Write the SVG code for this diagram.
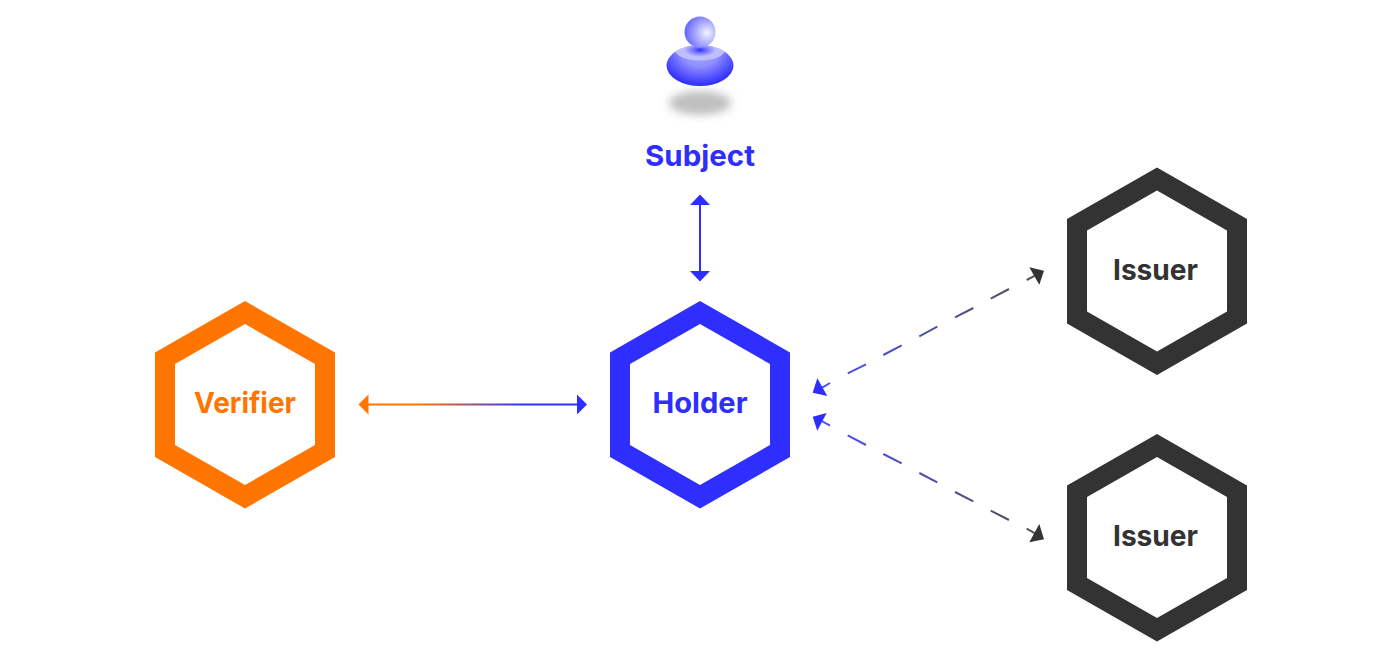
<svg xmlns="http://www.w3.org/2000/svg" width="1400" height="666" viewBox="0 0 1400 666">
<style>
text{font-family:"Inter","Liberation Sans",sans-serif;font-weight:700;font-size:29px;text-anchor:middle}
.blue{fill:#2e2eff}.orange{fill:#ff7500}.dark{fill:#333}
.dash{fill:none;stroke-width:2;stroke-opacity:.85}
</style>
<defs>
<path id="hex" fill-rule="evenodd" d="M0-103.500 90-52V52.500L0 104-90 52.500V-52ZM0-80.500-70-40.500V40.500L0 80.500 70 40.500V-40.500Z"/>
<linearGradient id="gh" gradientUnits="userSpaceOnUse" x1="368" y1="0" x2="577" y2="0"><stop offset="0.25" stop-color="#ff7500"/><stop offset="0.75" stop-color="#2e2eff"/></linearGradient>
<linearGradient id="gd1" gradientUnits="userSpaceOnUse" x1="822" y1="388" x2="1035" y2="275"><stop offset="0" stop-color="#2e2eff"/><stop offset="1" stop-color="#333"/></linearGradient>
<linearGradient id="gd2" gradientUnits="userSpaceOnUse" x1="822" y1="421" x2="1035" y2="533"><stop offset="0" stop-color="#2e2eff"/><stop offset="1" stop-color="#333"/></linearGradient>
<radialGradient id="head" gradientUnits="userSpaceOnUse" cx="707" cy="33" r="24"><stop offset="0" stop-color="#f4f4ff"/><stop offset="0.4" stop-color="#b4b4ff"/><stop offset="1" stop-color="#5a5aff"/></radialGradient>
<radialGradient id="body" gradientUnits="userSpaceOnUse" cx="0" cy="0" r="1" gradientTransform="translate(700 50) scale(42 36)"><stop offset="0" stop-color="#b0b0ff"/><stop offset="0.45" stop-color="#9090ff"/><stop offset="1" stop-color="#2e2eff"/></radialGradient>
<radialGradient id="band" gradientUnits="userSpaceOnUse" cx="0" cy="0" r="1" gradientTransform="translate(700 50) scale(25 10.500)"><stop offset="0" stop-color="#2e2eff"/><stop offset="0.3" stop-color="#7a7aff"/><stop offset="0.65" stop-color="#c0c0ff"/><stop offset="1" stop-color="#bcbcff"/></radialGradient>
<clipPath id="bodyclip"><ellipse cx="700" cy="65.500" rx="33.500" ry="20.500"/></clipPath>
<filter id="blur" x="-30%" y="-60%" width="160%" height="220%"><feGaussianBlur stdDeviation="4"/></filter>
</defs>
<g id="connectors">
<g id="subject-holder"><path d="M700 204V272" stroke="#2e2eff" stroke-width="2" fill="none"/><path class="blue" d="M700 194.500 710 205H690ZM700 281.500 710 271H690Z"/></g>
<g id="verifier-holder"><path d="M367 404.500H578" stroke="url(#gh)" stroke-width="2" fill="none"/><path class="orange" d="M358.500 404.500 368.500 394.500V414.500Z"/><path class="blue" d="M587 404.500 577 394.500V414.500Z"/></g>
<g id="holder-issuer-top"><path class="dash" stroke="url(#gd1)" d="M821.700 387.800 830 383M847.700 373.300 866 364.300M883.300 355 901.700 345.300M919.300 336.300 937.300 326.700M955 317.300 973.300 308M990.700 298.700 1009 289M1026.700 280 1035 275.700"/><path class="blue" d="M812.700 392.700 817.300 378.300 827.300 396Z"/><path class="dark" d="M1044 270.700 1029.300 267.300 1039.300 284.700Z"/></g>
<g id="holder-issuer-bottom"><path class="dash" stroke="url(#gd2)" d="M821.700 421 830 425.700M847.700 435.300 866 445M883.300 454 901.700 463.300M919.300 473 937.300 482.300M955 492 973.300 501.300M990.700 510.700 1009 520M1026.700 528.700 1035 533.300"/><path class="blue" d="M812.700 416.700 826.700 413 817.300 430.700Z"/><path class="dark" d="M1044 539.300 1039.300 524 1029.300 542.300Z"/></g>
</g>
<g id="subject">
<ellipse cx="700" cy="103" rx="31" ry="12" fill="#c0c0c0" filter="url(#blur)"/>
<ellipse cx="700" cy="65.500" rx="33.500" ry="20.500" fill="url(#body)"/>
<ellipse cx="700" cy="50" rx="25" ry="10.500" fill="url(#band)" clip-path="url(#bodyclip)"/>
<circle cx="700" cy="32" r="15.500" fill="url(#head)"/>
<text x="700" y="165.500" class="blue" textLength="110" lengthAdjust="spacingAndGlyphs">Subject</text>
</g>
<g id="holder"><use href="#hex" x="700" y="404.500" class="blue"/><text x="700" y="413" class="blue" textLength="95" lengthAdjust="spacingAndGlyphs">Holder</text></g>
<g id="verifier"><use href="#hex" x="245" y="404.500" class="orange"/><text x="245" y="413" class="orange" textLength="102" lengthAdjust="spacingAndGlyphs">Verifier</text></g>
<g id="issuer-top"><use href="#hex" x="1157" y="271" class="dark"/><text x="1155.500" y="279.500" class="dark" textLength="85" lengthAdjust="spacingAndGlyphs">Issuer</text></g>
<g id="issuer-bottom"><use href="#hex" x="1157" y="537.500" class="dark"/><text x="1155.500" y="546" class="dark" textLength="85" lengthAdjust="spacingAndGlyphs">Issuer</text></g>
</svg>
